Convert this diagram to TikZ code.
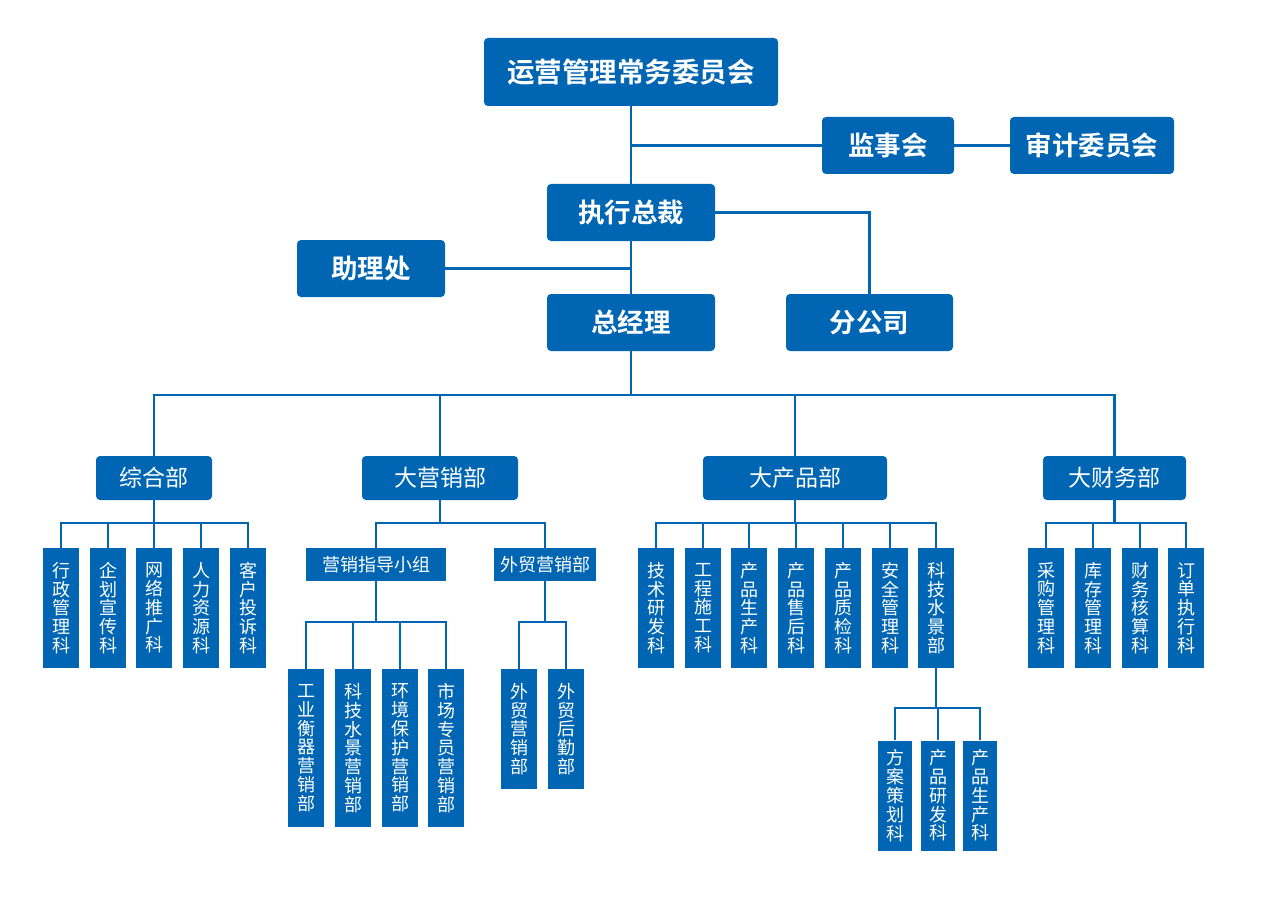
\documentclass[tikz,border=0pt]{standalone}
\usepackage{fontspec}
\setmainfont{Noto Sans CJK SC}[BoldFont={Noto Sans CJK SC Bold}]
\usepackage{tikz}
\definecolor{orgblue}{RGB}{0,102,179}
\tikzstyle{unit}=[fill=orgblue, text=white, inner sep=0pt]
\tikzstyle{board}=[unit, rounded corners=4pt, minimum height=57pt, font=\bfseries\fontsize{26.5}{30}\selectfont]
\tikzstyle{dept}=[unit, rounded corners=4pt, minimum height=44pt, font=\fontsize{23}{26}\selectfont]
\tikzstyle{group}=[unit, minimum height=33pt, font=\fontsize{18}{20}\selectfont]
\tikzstyle{section}=[unit, minimum width=36pt, minimum height=120pt, align=center, font=\fontsize{18}{18.8}\selectfont]
\tikzstyle{link}=[draw=orgblue, line width=2.8pt]

\begin{document}
\begin{tikzpicture}[x=1pt, y=-1pt]
        \useasboundingbox (0,0) rectangle (1262,915);
        % top levels
        \node[board, minimum width=294pt, minimum height=68pt, font=\bfseries\fontsize{27.5}{30}\selectfont] (top) at (631,72) {运营管理常务委员会};
        \node[board, minimum width=132pt] (sjh) at (888,145.5) {监事会};
        \node[board, minimum width=164pt] (sjwyh) at (1092,145.5) {审计委员会};
        \node[board, minimum width=168pt] (ceo) at (631,212.5) {执行总裁};
        \node[board, minimum width=148pt] (zlc) at (371,268.5) {助理处};
        \node[board, minimum width=168pt] (gm) at (631,322.5) {总经理};
        \node[board, minimum width=167pt] (fgs) at (869.5,322.5) {分公司};
        \draw[link] (top) -- (ceo);
        \draw[link] (ceo) -- (gm);
        \draw[link] (sjh.west) -- (sjh.west -| top);
        \draw[link] (sjh) -- (sjwyh);
        \draw[link] (zlc.east) -- (zlc.east -| top);
        \draw[link] (ceo.east) -| (fgs);
        % departments
        \coordinate (bus) at (631,395);
        \node[dept, minimum width=116pt] (zh) at (154,478) {综合部};
        \node[dept, minimum width=156pt] (yx) at (440,478) {大营销部};
        \node[dept, minimum width=184pt] (cp) at (795,478) {大产品部};
        \node[dept, minimum width=143pt] (cw) at (1114.5,478) {大财务部};
        \draw[link] (gm) -- (bus);
        \draw[link] (zh) |- (bus) -| (cw);
        \draw[link] (yx) |- (bus);
        \draw[link] (cp) |- (bus);
        % 综合部
        \node[section] (zh1) at (61,608) {行\\政\\管\\理\\科};
        \node[section] (zh2) at (108,608) {企\\划\\宣\\传\\科};
        \node[section] (zh3) at (154,608) {网\\络\\推\\广\\科};
        \node[section] (zh4) at (201,608) {人\\力\\资\\源\\科};
        \node[section] (zh5) at (248,608) {客\\户\\投\\诉\\科};
        \coordinate (zhb) at (154,523);
        \draw[link] (zh) -- (zhb);
        \foreach \n in {zh1,zh2,zh3,zh4,zh5}
            \draw[link] (zhb) -| (\n);
        % 大营销部
        \node[group, minimum width=140pt] (yxzd) at (376,564.5) {营销指导小组};
        \node[group, minimum width=102pt] (wmyx) at (545,564.5) {外贸营销部};
        \coordinate (yxb) at (440,523);
        \draw[link] (yx) -- (yxb);
        \draw[link] (yxb) -| (yxzd);
        \draw[link] (yxb) -| (wmyx);
        \node[section, minimum height=158pt] (yx1) at (306,748) {工\\业\\衡\\器\\营\\销\\部};
        \node[section, minimum height=158pt] (yx2) at (353,748) {科\\技\\水\\景\\营\\销\\部};
        \node[section, minimum height=158pt] (yx3) at (400,748) {环\\境\\保\\护\\营\\销\\部};
        \node[section, minimum height=158pt] (yx4) at (446,748) {市\\场\\专\\员\\营\\销\\部};
        \coordinate (yxzdb) at (376,622);
        \draw[link] (yxzd) -- (yxzdb);
        \foreach \n in {yx1,yx2,yx3,yx4}
            \draw[link] (yxzdb) -| (\n);
        \node[section] (wm1) at (519,729) {外\\贸\\营\\销\\部};
        \node[section] (wm2) at (566,729) {外\\贸\\后\\勤\\部};
        \coordinate (wmyxb) at (545,622);
        \draw[link] (wmyx) -- (wmyxb);
        \foreach \n in {wm1,wm2}
            \draw[link] (wmyxb) -| (\n);
        % 大产品部
        \node[section] (cp1) at (656,608) {技\\术\\研\\发\\科};
        \node[section] (cp2) at (703,608) {工\\程\\施\\工\\科};
        \node[section] (cp3) at (749,608) {产\\品\\生\\产\\科};
        \node[section] (cp4) at (796,608) {产\\品\\售\\后\\科};
        \node[section] (cp5) at (843,608) {产\\品\\质\\检\\科};
        \node[section] (cp6) at (890,608) {安\\全\\管\\理\\科};
        \node[section] (cp7) at (936,608) {科\\技\\水\\景\\部};
        \coordinate (cpb) at (795,523);
        \draw[link] (cp) -- (cpb);
        \foreach \n in {cp1,cp2,cp3,cp4,cp5,cp6,cp7}
            \draw[link] (cpb) -| (\n);
        \node[section, minimum width=34pt, minimum height=110pt] (sj1) at (895,795.5) {方\\案\\策\\划\\科};
        \node[section, minimum width=34pt, minimum height=110pt] (sj2) at (938,795.5) {产\\品\\研\\发\\科};
        \node[section, minimum width=34pt, minimum height=110pt] (sj3) at (980,795.5) {产\\品\\生\\产\\科};
        \coordinate (sjb) at (936,708);
        \draw[link] (cp7) -- (sjb);
        \foreach \n in {sj1,sj2,sj3}
            \draw[link] (sjb) -| (\n);
        % 大财务部
        \node[section] (cw1) at (1046,608) {采\\购\\管\\理\\科};
        \node[section] (cw2) at (1093,608) {库\\存\\管\\理\\科};
        \node[section] (cw3) at (1140,608) {财\\务\\核\\算\\科};
        \node[section] (cw4) at (1186,608) {订\\单\\执\\行\\科};
        \coordinate (cwb) at (1114.5,523);
        \draw[link] (cw) -- (cwb);
        \foreach \n in {cw1,cw2,cw3,cw4}
            \draw[link] (cwb) -| (\n);
    \end{tikzpicture}
\end{document}
